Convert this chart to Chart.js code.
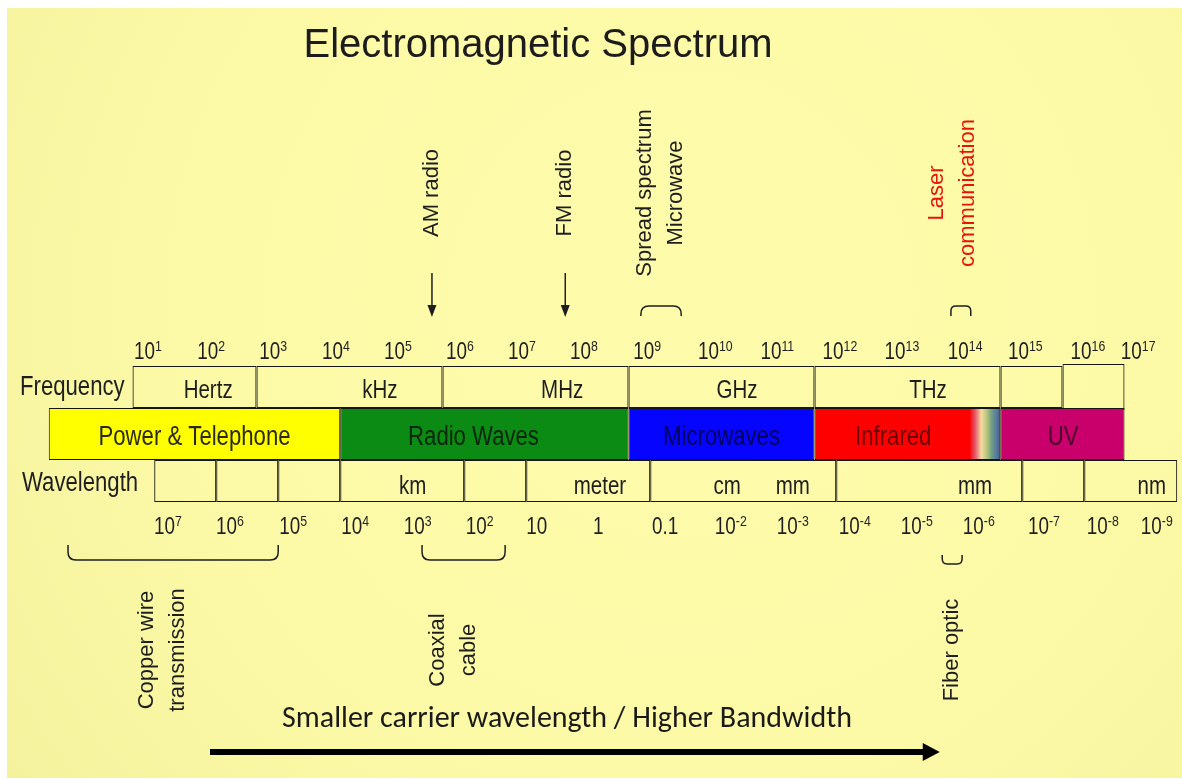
<!DOCTYPE html>
<html>
<head>
<meta charset="utf-8">
<script src="https://cdn.jsdelivr.net/npm/chart.js@4.4.1/dist/chart.umd.min.js"></script>
<style>
  html, body { margin: 0; padding: 0; background: #fff; }
  #wrap { width: 1182px; height: 779px; }
</style>
</head>
<body>
<div id="wrap"><canvas id="spectrum" width="1182" height="779"></canvas></div>
<script>
// x unit = log10(frequency in Hz)
const rows = ['Frequency', 'Band', 'Wavelength'];

const freqCells = [[0.75, 2.75], [2.75, 5.75], [5.75, 8.75], [8.75, 11.75], [11.75, 14.75], [14.75, 15.75]];
const freqTallCell = [[15.75, 16.75]];
const freqUnits = ['Hertz', 'kHz', 'MHz', 'GHz', 'THz'];
const freqUnitPos = [1.97, 4.74, 7.68, 10.5, 13.58];

const bandNames = ['Power & Telephone', 'Radio Waves', 'Microwaves', 'Infrared', 'UV'];
const bandRanges = [[-0.6, 4.1], [4.1, 8.75], [8.75, 11.75], [11.75, 14.75], [14.75, 16.75]];
const bandColors = ['#ffff00', '#0b8a14', '#0505ff', '#ff0000', '#c9006b'];
const bandTextColors = ['#2a2a10', '#0c260c', '#00005e', '#6e0000', '#4a0028'];
const bandLabelPos = [1.75, 6.25, 10.25, 13.02, 15.76];
const visibleRange = [[14.25, 14.75]];

const waveCells = [[1.1, 2.1], [2.1, 3.1], [3.1, 4.1], [4.1, 6.1], [6.1, 7.1], [7.1, 9.1],
                   [9.1, 12.1], [12.1, 15.1], [15.1, 16.1], [16.1, 17.6]];
const waveUnits = ['km', 'meter', 'cm', 'mm', 'mm', 'nm'];
const waveUnitPos = [5.27, 8.29, 10.34, 11.4, 14.34, 17.19];

const freqTicks = ['10^1', '10^2', '10^3', '10^4', '10^5', '10^6', '10^7', '10^8', '10^9', '10^10',
                   '10^11', '10^12', '10^13', '10^14', '10^15', '10^16', '10^17'];
const freqTickPos = [1, 2.02, 3.02, 4.03, 5.03, 6.03, 7.03, 8.03, 9.05, 10.15, 11.15, 12.16, 13.16, 14.18, 15.15, 16.16, 16.97];

const waveTicks = ['10^7', '10^6', '10^5', '10^4', '10^3', '10^2', '10', '1', '0.1', '10^-2',
                   '10^-3', '10^-4', '10^-5', '10^-6', '10^-7', '10^-8', '10^-9'];
const waveTickPos = [1.32, 2.32, 3.34, 4.34, 5.35, 6.35, 7.27, 8.26, 9.34, 10.4, 11.4, 12.4, 13.4, 14.4, 15.45, 16.4, 17.27];

// uses above the scale: label lines, where, and what marks it
const topNotes = [
  { lines: ['AM radio'], at: 5.58, mark: 'arrow' },
  { lines: ['FM radio'], at: 7.73, mark: 'arrow' },
  { lines: ['Spread spectrum', 'Microwave'], at: 9.26, mark: [8.95, 9.6] },
  { lines: ['Laser', 'communication'], at: 13.97, mark: [13.95, 14.27], color: '#e8140c' }
];
const bottomNotes = [
  { lines: ['Copper wire', 'transmission'], at: 1.23, mark: [-0.29, 3.1] },
  { lines: ['Coaxial', 'cable'], at: 5.93, mark: [5.42, 6.76] },
  { lines: ['Fiber optic'], at: 13.97, mark: [13.81, 14.13] }
];
const trendText = 'Smaller carrier wavelength / Higher Bandwidth';
const trendRange = [2.0, 13.77];

// narrow face: use the real one if present, else squeeze Liberation Sans
const probe = document.createElement('canvas').getContext('2d');
probe.font = '40px "Liberation Sans Narrow", monospace';
const wN = probe.measureText('Frequency').width;
probe.font = '40px monospace';
const hasNarrow = Math.abs(wN - probe.measureText('Frequency').width) > 1;
const NARROW = hasNarrow ? '"Liberation Sans Narrow"' : '"Liberation Sans", Arial, sans-serif';
const SQ = hasNarrow ? 1 : 0.82;
const REG = '"Liberation Sans", Arial, sans-serif';

function narrow(ctx, txt, x, y, size, align, color) {
  ctx.save();
  ctx.font = size + 'px ' + NARROW;
  ctx.fillStyle = color || '#1e1e1e';
  ctx.textAlign = align || 'center';
  ctx.textBaseline = 'alphabetic';
  ctx.translate(x, y);
  ctx.scale(SQ, 1);
  ctx.fillText(txt, 0, 0);
  ctx.restore();
}

function power(ctx, txt, cx, base, size) {
  const parts = txt.split('^');
  if (parts.length < 2) { narrow(ctx, txt, cx, base, size); return; }
  const sup = Math.round(size * 0.64);
  ctx.save();
  ctx.font = size + 'px ' + NARROW;
  const wb = ctx.measureText(parts[0]).width * SQ;
  ctx.font = sup + 'px ' + NARROW;
  const ws = ctx.measureText(parts[1]).width * SQ;
  ctx.restore();
  const left = cx - (wb + ws) / 2;
  narrow(ctx, parts[0], left, base, size, 'left');
  narrow(ctx, parts[1], left + wb, base - size * 0.36, sup, 'left');
}

function vertical(ctx, lines, cx, cy, color) {
  ctx.save();
  ctx.font = '22px ' + REG;
  ctx.fillStyle = color || '#1e1e1e';
  ctx.textAlign = 'center';
  ctx.textBaseline = 'middle';
  const gap = 31;
  lines.forEach((t, i) => {
    ctx.save();
    ctx.translate(cx + (i - (lines.length - 1) / 2) * gap, cy);
    ctx.rotate(-Math.PI / 2);
    ctx.fillText(t, 0, 0);
    ctx.restore();
  });
  ctx.restore();
}

function bracket(ctx, x1, x2, yEdge, depth, up) {
  // up = true: opening downward (legs hang from a top bar)
  const r = Math.min(8, (x2 - x1) / 4);
  const s = up ? 1 : -1;
  const yBar = up ? yEdge : yEdge + depth;
  const yLeg = up ? yEdge + depth : yEdge;
  ctx.beginPath();
  ctx.moveTo(x1, yLeg);
  ctx.lineTo(x1, yBar + s * r);
  ctx.quadraticCurveTo(x1, yBar, x1 + r, yBar);
  ctx.lineTo(x2 - r, yBar);
  ctx.quadraticCurveTo(x2, yBar, x2, yBar + s * r);
  ctx.lineTo(x2, yLeg);
  ctx.stroke();
}

function spectrumFill(c) {
  const xs = c.chart.scales.x;
  const a = xs ? xs.getPixelForValue(visibleRange[0][0]) : NaN;
  const b = xs ? xs.getPixelForValue(visibleRange[0][1]) : NaN;
  if (!isFinite(a) || !isFinite(b) || a === b) return '#ff0000';
  const g = c.chart.ctx.createLinearGradient(a, 0, b, 0);
  g.addColorStop(0, '#ff0000');
  g.addColorStop(0.18, '#e2586a');
  g.addColorStop(0.38, '#f6d9a0');
  g.addColorStop(0.55, '#b9c77c');
  g.addColorStop(0.72, '#6e9d86');
  g.addColorStop(0.88, '#5877a0');
  g.addColorStop(1, '#4a5490');
  return g;
}

const backdrop = {
  id: 'backdrop',
  beforeDraw(chart) {
    const ctx = chart.ctx;
    ctx.save();
    ctx.fillStyle = '#ffffff';
    ctx.fillRect(0, 0, chart.width, chart.height);
    const g = ctx.createRadialGradient(680, 300, 50, 680, 300, 860);
    g.addColorStop(0, '#fefbab');
    g.addColorStop(0.6, '#fcf9a6');
    g.addColorStop(1, '#f3f19c');
    ctx.fillStyle = g;
    ctx.fillRect(7, 8, chart.width - 7, chart.height - 9);
    ctx.restore();
  }
};

const annotate = {
  id: 'annotate',
  afterDatasetsDraw(chart) {
    const ctx = chart.ctx;
    const xs = chart.scales.x, ys = chart.scales.y;
    const X = v => xs.getPixelForValue(v);
    const yFreq = ys.getPixelForValue(0);
    const yBand = ys.getPixelForValue(1);
    const yWave = ys.getPixelForValue(2);
    const freqTop = yFreq - 21;
    const waveBot = yWave + 21;

    ctx.save();
    // title
    ctx.font = '40px ' + REG;
    ctx.fillStyle = '#1c1c1c';
    ctx.textAlign = 'center';
    ctx.textBaseline = 'alphabetic';
    ctx.fillText('Electromagnetic Spectrum', 538, 57);

    // row names
    narrow(ctx, 'Frequency', 20, yFreq + 8, 27, 'left');
    narrow(ctx, 'Wavelength', 22, yWave + 10, 27, 'left');

    freqUnits.forEach((u, i) => narrow(ctx, u, X(freqUnitPos[i]), yFreq + 11, 25));
    waveUnits.forEach((u, i) => narrow(ctx, u, X(waveUnitPos[i]), yWave + 13, 25));
    bandNames.forEach((n, i) => narrow(ctx, n, X(bandLabelPos[i]), yBand + 11, 27, 'center', bandTextColors[i]));

    freqTicks.forEach((t, i) => power(ctx, t, X(freqTickPos[i]), freqTop - 7, 23));
    waveTicks.forEach((t, i) => power(ctx, t, X(waveTickPos[i]), waveBot + 32, 23));

    // uses above the scale
    ctx.strokeStyle = '#1e1e1e';
    ctx.fillStyle = '#1e1e1e';
    ctx.lineWidth = 1.5;
    topNotes.forEach(n => {
      vertical(ctx, n.lines, X(n.at), 193, n.color);
      if (n.mark === 'arrow') {
        const x = X(n.at);
        ctx.beginPath();
        ctx.moveTo(x, 273);
        ctx.lineTo(x, 308);
        ctx.stroke();
        ctx.beginPath();
        ctx.moveTo(x, 317);
        ctx.lineTo(x - 4.5, 305);
        ctx.lineTo(x + 4.5, 305);
        ctx.closePath();
        ctx.fill();
      } else {
        bracket(ctx, X(n.mark[0]), X(n.mark[1]), 306, 10, true);
      }
    });

    // uses below the scale
    bottomNotes.forEach(n => {
      const w = X(n.mark[1]) - X(n.mark[0]);
      if (w > 40) bracket(ctx, X(n.mark[0]), X(n.mark[1]), 545, 15, false);
      else bracket(ctx, X(n.mark[0]), X(n.mark[1]), 555, 9, false);
      vertical(ctx, n.lines, X(n.at), 650, n.color);
    });

    // trend text and arrow
    ctx.font = '30px Carlito, Lato, "Open Sans", sans-serif';
    ctx.fillStyle = '#1a1a1a';
    ctx.textAlign = 'center';
    ctx.textBaseline = 'alphabetic';
    const x0 = X(trendRange[0]), x1 = X(trendRange[1]);
    ctx.fillText(trendText, 567, 727, 590);
    ctx.fillStyle = '#000';
    ctx.fillRect(x0, 749, x1 - x0 - 15, 6);
    ctx.beginPath();
    ctx.moveTo(x1, 752);
    ctx.lineTo(x1 - 17, 743);
    ctx.lineTo(x1 - 17, 761);
    ctx.closePath();
    ctx.fill();
    ctx.restore();
  }
};

const line = '#161616';
const ctx = document.getElementById('spectrum').getContext('2d');
const chart = new Chart(ctx, {
  type: 'bar',
  data: {
    labels: rows,
    datasets: [
      {
        label: 'visible',
        data: visibleRange.map(r => ({ y: 'Band', x: r })),
        backgroundColor: spectrumFill,
        borderColor: line,
        borderWidth: { top: 1, bottom: 1, right: 1, left: 0 },
        barThickness: 52,
        order: 0
      },
      {
        label: 'bands',
        data: bandRanges.map(r => ({ y: 'Band', x: r })),
        backgroundColor: bandColors,
        borderColor: line,
        borderWidth: 1,
        barThickness: 52,
        order: 1
      },
      {
        label: 'frequency',
        data: freqCells.map(r => ({ y: 'Frequency', x: r })),
        backgroundColor: 'rgba(0,0,0,0)',
        borderColor: line,
        borderWidth: 1,
        barThickness: 42,
        order: 2
      },
      {
        label: 'frequency tall',
        data: freqTallCell.map(r => ({ y: 'Frequency', x: r })),
        backgroundColor: 'rgba(0,0,0,0)',
        borderColor: line,
        borderWidth: 1,
        barThickness: 46,
        order: 3
      },
      {
        label: 'wavelength',
        data: waveCells.map(r => ({ y: 'Wavelength', x: r })),
        backgroundColor: 'rgba(0,0,0,0)',
        borderColor: line,
        borderWidth: 1,
        barThickness: 42,
        order: 2
      }
    ]
  },
  options: {
    indexAxis: 'y',
    responsive: false,
    devicePixelRatio: 1,
    animation: false,
    events: [],
    layout: { padding: { top: 363.5, bottom: 274.5, left: 0, right: 0 } },
    datasets: { bar: { grouped: false, borderSkipped: false, inflateAmount: 0 } },
    scales: {
      x: { type: 'linear', min: -1.387, max: 17.677, display: false },
      y: { type: 'category', display: false, offset: true }
    },
    plugins: { legend: { display: false }, tooltip: { enabled: false }, title: { display: false } }
  },
  plugins: [backdrop, annotate]
});
</script>
</body>
</html>
